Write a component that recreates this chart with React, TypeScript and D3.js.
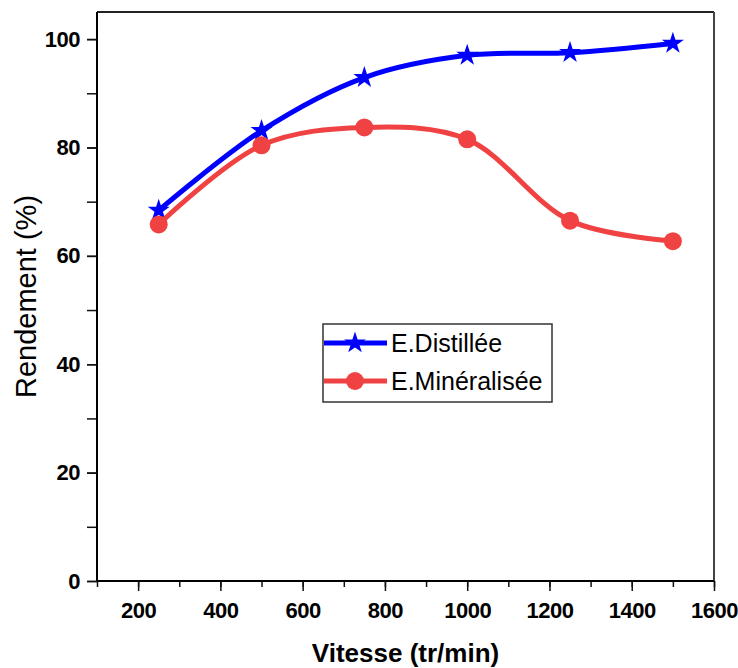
import React, { useEffect, useRef } from "react";
import * as d3 from "d3";

// speed (tr/min)
const vitesse = [250, 500, 750, 1000, 1250, 1500];
// yield (%) for each water type
const distillee = [68.4, 83.1, 92.9, 97.0, 97.5, 99.2];
const mineralisee = [65.8, 80.4, 83.7, 81.5, 66.5, 62.7];

const xTicks = [200, 400, 600, 800, 1000, 1200, 1400, 1600];
const yTicks = [0, 20, 40, 60, 80, 100];
const seriesNames = ["E.Distillée", "E.Minéralisée"];

export default function App() {
  const svgRef = useRef<SVGSVGElement | null>(null);

  useEffect(() => {
    if (!svgRef.current) return;
    const svg = d3.select(svgRef.current);
    svg.selectAll("*").remove();

    const W = 738;
    const H = 668;
    const margin = { top: 12, right: 24, bottom: 87, left: 97 };
    const width = W - margin.left - margin.right;
    const height = H - margin.top - margin.bottom;
    const font = "'Liberation Sans', Arial, sans-serif";

    const x = d3.scaleLinear().domain([100, 1600]).range([0, width]);
    const y = d3.scaleLinear().domain([0, 105]).range([height, 0]);

    const g = svg
      .append("g")
      .attr("transform", `translate(${margin.left},${margin.top})`);

    // frame (top + right)
    g.append("line")
      .attr("x1", 0).attr("x2", width).attr("y1", 0).attr("y2", 0)
      .attr("stroke", "#222").attr("stroke-width", 2);
    g.append("line")
      .attr("x1", width).attr("x2", width).attr("y1", 0).attr("y2", height)
      .attr("stroke", "#444").attr("stroke-width", 2);

    // x axis: minor ticks then major ticks with labels
    const xMinor = g.append("g").attr("transform", `translate(0,${height})`);
    xMinor.call(
      d3.axisBottom(x).tickValues(d3.range(100, 1601, 100)).tickSize(6).tickFormat(() => "")
    );
    xMinor.select(".domain").remove();
    const xMajor = g.append("g").attr("transform", `translate(0,${height})`);
    xMajor.call(
      d3.axisBottom(x).tickValues(xTicks).tickSize(10).tickPadding(11).tickFormat(d3.format("d"))
    );
    xMajor.select(".domain").attr("stroke-width", 2).attr("d", `M0,0H${width}`);

    // y axis
    const yMinor = g.append("g");
    yMinor.call(
      d3.axisLeft(y).tickValues(d3.range(0, 101, 10)).tickSize(10).tickFormat(() => "")
    );
    yMinor.select(".domain").remove();
    const yMajor = g.append("g");
    yMajor.call(
      d3.axisLeft(y).tickValues(yTicks).tickSize(10).tickPadding(7).tickFormat(d3.format("d"))
    );
    yMajor.select(".domain").attr("stroke-width", 2).attr("d", `M0,0V${height}`);

    svg.selectAll(".tick line").attr("stroke", "#111").attr("stroke-width", 1.5);
    svg
      .selectAll(".tick text")
      .attr("font-family", font)
      .attr("font-weight", "bold")
      .attr("font-size", 22)
      .attr("letter-spacing", -0.5)
      .attr("fill", "#000");

    // axis titles
    svg
      .append("text")
      .attr("x", margin.left + width / 2)
      .attr("y", 662)
      .attr("text-anchor", "middle")
      .attr("font-family", font)
      .attr("font-weight", "bold")
      .attr("font-size", 26)
      .text("Vitesse (tr/min)");

    svg
      .append("text")
      .attr("transform", `translate(36,${margin.top + height / 2}) rotate(-90)`)
      .attr("text-anchor", "middle")
      .attr("font-family", font)
      .attr("font-size", 29)
      .text("Rendement (%)");

    const line = d3
      .line<number>()
      .x((_, i) => x(vitesse[i]))
      .y((d) => y(d))
      .curve(d3.curveCatmullRom.alpha(0.5));

    const series = [
      { name: seriesNames[0], values: distillee, color: "#0000ff", marker: "star" },
      { name: seriesNames[1], values: mineralisee, color: "#f04242", marker: "circle" },
    ];

    const star = d3.symbol().type(d3.symbolStar).size(150);

    series.forEach((s) => {
      g.append("path")
        .datum(s.values)
        .attr("fill", "none")
        .attr("stroke", s.color)
        .attr("stroke-width", 5)
        .attr("d", line);

      s.values.forEach((v, i) => {
        if (s.marker === "star") {
          g.append("path")
            .attr("d", star()!)
            .attr("transform", `translate(${x(vitesse[i])},${y(v)})`)
            .attr("fill", s.color);
        } else {
          g.append("circle")
            .attr("cx", x(vitesse[i]))
            .attr("cy", y(v))
            .attr("r", 9)
            .attr("fill", s.color);
        }
      });
    });

    // legend
    const lg = svg.append("g").attr("transform", "translate(323,324)");
    lg.append("rect")
      .attr("width", 229)
      .attr("height", 78)
      .attr("fill", "#fff")
      .attr("stroke", "#333")
      .attr("stroke-width", 1.5);
    series.forEach((s, i) => {
      const cy = 19 + i * 38;
      lg.append("line")
        .attr("x1", 1).attr("x2", 64).attr("y1", cy).attr("y2", cy)
        .attr("stroke", s.color).attr("stroke-width", 5);
      if (s.marker === "star") {
        lg.append("path")
          .attr("d", star()!)
          .attr("transform", `translate(32,${cy})`)
          .attr("fill", s.color);
      } else {
        lg.append("circle").attr("cx", 32).attr("cy", cy).attr("r", 9).attr("fill", s.color);
      }
      lg.append("text")
        .attr("x", 68)
        .attr("y", cy + 9)
        .attr("font-family", font)
        .attr("font-size", 25)
        .attr("fill", "#000")
        .text(s.name);
    });
  }, []);

  return (
    <div style={{ position: "absolute", left: 0, top: 0, background: "#fff" }}>
      <svg ref={svgRef} width={738} height={668} />
    </div>
  );
}
